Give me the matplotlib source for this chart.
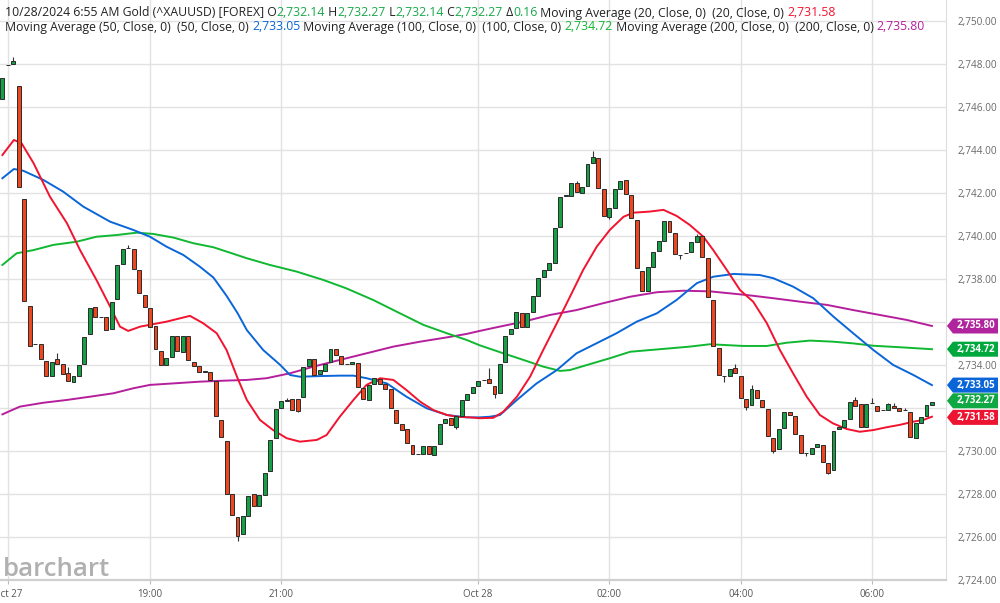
import matplotlib
matplotlib.use("Agg")
import matplotlib.pyplot as plt
import matplotlib.transforms as mtransforms
from matplotlib.patches import Polygon
import numpy as np

# 5-minute candles, Gold (^XAUUSD), index 0..170
opens = [2746.34, 2747.94, 2748.00, 2746.98, 2741.69, 2736.73, 2734.94, 2734.96, 2734.17, 2733.49,
         2734.25, 2734.02, 2733.63, 2733.18, 2733.49, 2734.02, 2735.41, 2736.68, 2736.20, 2736.20,
         2735.67, 2737.04, 2738.68, 2739.41, 2739.37, 2738.40, 2737.23, 2736.62, 2735.80, 2734.65,
         2734.00, 2734.37, 2735.33, 2734.59, 2735.33, 2734.14, 2733.94, 2733.67, 2733.65, 2733.26,
         2731.43, 2730.45, 2727.97, 2726.90, 2726.11, 2726.98, 2727.97, 2727.44, 2727.94, 2729.06,
         2730.60, 2731.97, 2732.33, 2732.40, 2732.40, 2732.48, 2733.94, 2734.25, 2733.55, 2733.72,
         2734.11, 2734.73, 2734.42, 2734.02, 2734.02, 2734.07, 2732.90, 2732.37, 2733.09, 2733.33,
         2733.10, 2732.86, 2731.89, 2731.24, 2730.99, 2730.27, 2729.83, 2729.83, 2730.23, 2729.80,
         2730.31, 2731.27, 2731.52, 2731.12, 2731.63, 2732.34, 2732.70, 2733.02, 2733.29, 2733.33,
         2733.01, 2732.70, 2734.13, 2735.41, 2735.69, 2736.42, 2735.74, 2736.47, 2737.20, 2738.07,
         2738.40, 2738.72, 2740.42, 2741.86, 2741.86, 2742.47, 2741.97, 2742.31, 2743.37, 2743.63,
         2742.16, 2740.88, 2741.30, 2742.16, 2742.59, 2741.89, 2740.73, 2738.37, 2737.43, 2738.56,
         2739.29, 2739.75, 2740.70, 2740.14, 2739.10, 2739.18, 2739.26, 2739.72, 2739.99, 2738.95,
         2737.01, 2734.76, 2733.47, 2733.49, 2733.83, 2733.49, 2732.39, 2732.13, 2732.82, 2732.36,
         2731.93, 2730.58, 2730.06, 2731.07, 2731.79, 2731.61, 2730.73, 2729.88, 2729.85, 2730.16,
         2730.27, 2729.41, 2729.10, 2731.01, 2731.12, 2731.47, 2732.36, 2732.16, 2731.12, 2732.20,
         2732.09, 2731.89, 2731.89, 2732.09, 2731.99, 2731.89, 2731.81, 2730.58, 2731.27, 2731.61,
         2732.14]
closes = [2747.35, 2747.96, 2748.10, 2742.28, 2736.96, 2734.87, 2734.96, 2734.25, 2733.49, 2734.14,
          2734.02, 2733.58, 2733.26, 2733.47, 2733.99, 2735.27, 2736.65, 2736.20, 2736.22, 2735.61,
          2736.93, 2738.62, 2739.38, 2739.43, 2738.44, 2737.32, 2736.70, 2735.77, 2734.74, 2734.00,
          2734.33, 2735.33, 2734.65, 2735.33, 2734.22, 2733.94, 2733.67, 2733.69, 2733.29, 2731.63,
          2730.62, 2728.00, 2727.01, 2726.04, 2726.98, 2727.89, 2727.44, 2727.94, 2728.98, 2730.50,
          2731.94, 2732.31, 2732.35, 2731.89, 2731.86, 2733.91, 2734.25, 2733.52, 2733.75, 2734.03,
          2734.73, 2734.45, 2734.03, 2734.04, 2734.13, 2732.98, 2732.40, 2733.06, 2733.37, 2733.10,
          2732.88, 2731.99, 2731.27, 2730.96, 2730.34, 2729.83, 2729.85, 2730.23, 2729.83, 2730.23,
          2731.24, 2731.47, 2731.18, 2731.63, 2732.34, 2732.65, 2732.98, 2733.23, 2733.31, 2733.13,
          2732.64, 2734.02, 2735.33, 2735.66, 2736.47, 2735.74, 2736.42, 2737.20, 2738.02, 2738.40,
          2738.72, 2740.34, 2741.81, 2741.88, 2742.47, 2742.05, 2742.28, 2743.33, 2743.67, 2742.20,
          2740.93, 2741.27, 2742.16, 2742.56, 2741.94, 2740.81, 2738.48, 2737.43, 2738.53, 2739.26,
          2739.75, 2740.70, 2740.16, 2739.15, 2739.12, 2739.20, 2739.69, 2739.99, 2739.02, 2737.16,
          2734.87, 2733.52, 2733.49, 2733.80, 2733.60, 2732.44, 2732.05, 2732.87, 2732.44, 2732.05,
          2730.68, 2730.00, 2730.99, 2731.81, 2731.66, 2730.78, 2729.88, 2729.90, 2730.11, 2730.31,
          2729.49, 2728.98, 2730.92, 2731.12, 2731.43, 2732.28, 2732.09, 2731.12, 2732.16, 2732.22,
          2731.85, 2731.91, 2732.16, 2731.97, 2731.85, 2731.91, 2730.65, 2731.27, 2731.55, 2732.13,
          2732.27]
# visible wick extremes (bar index: (high, low)); others have no visible wick
wicks = {2: (2748.33, None), 10: (2734.56, None), 12: (2733.88, None), 23: (2739.57, None),
         43: (None, 2725.82), 52: (2732.45, None), 54: (None, 2731.79), 83: (None, 2731.01),
         89: (2733.86, None), 90: (None, 2732.44), 105: (2742.56, None), 108: (2743.94, None),
         111: (None, 2740.78), 124: (None, 2738.90), 127: (2740.08, None), 132: (None, 2733.20),
         134: (2734.02, None), 136: (None, 2731.90), 137: (2733.04, None), 141: (None, 2729.88),
         147: (None, 2729.73), 151: (None, 2728.90), 156: (2732.48, None), 159: (2732.44, None),
         162: (2732.24, None), 163: (2732.20, None), 165: (2731.98, None)}

# moving averages (bar index, value)
ma20_x = [0, 2.1, 3.5, 5.7, 8.7, 11.8, 14.2, 17.2, 19.7, 21.5, 23, 25.2, 30, 34.3, 36.7, 39.2, 41,
          42.9, 44.7, 47.1, 49.5, 52, 54.4, 57.5, 59.3, 61.7, 64.2, 66.6, 69.1, 71.5, 73.9, 76.4,
          78.8, 81.3, 83.1, 85.5, 87.3, 89.8, 91.6, 94.1, 96.5, 98.9, 101.4, 103.8, 106.2, 108.7,
          111.1, 113.6, 115.4, 118.4, 120.9, 123.3, 125.7, 128.2, 130, 132.5, 134.9, 137.3, 139.8,
          142.2, 144.6, 147.1, 149.5, 151.9, 154.4, 156.8, 159.3, 161.7, 164.1, 166.6, 168.4, 170]
ma20_v = [2743.75, 2744.45, 2744.30, 2743.37, 2741.81, 2740.58, 2739.33, 2737.94, 2736.70, 2735.77,
          2735.57, 2735.77, 2736.00, 2736.27, 2735.93, 2735.46, 2734.68, 2733.44, 2732.36, 2731.43,
          2730.96, 2730.58, 2730.42, 2730.50, 2730.73, 2731.58, 2732.36, 2733.06, 2733.37, 2733.29,
          2732.82, 2732.28, 2731.89, 2731.66, 2731.58, 2731.55, 2731.51, 2731.53, 2731.81, 2732.51,
          2733.44, 2734.68, 2735.93, 2737.16, 2738.40, 2739.49, 2740.27, 2740.88, 2741.07, 2741.12,
          2741.20, 2740.92, 2740.50, 2739.95, 2739.33, 2738.40, 2737.47, 2736.93, 2735.93, 2734.68,
          2733.60, 2732.51, 2731.66, 2731.27, 2731.01, 2730.88, 2730.96, 2731.09, 2731.20, 2731.35,
          2731.43, 2731.58]
ma50_x = [0, 2.1, 3.8, 7.5, 11.1, 14.8, 19.7, 23.9, 27, 30, 33.1, 36.1, 38.6, 41, 43, 44.7, 47.7,
          50.8, 52.6, 54.4, 58.1, 61.7, 64.2, 66.6, 70.3, 73.9, 77.6, 81.3, 84.9, 87.3, 89.2, 91,
          94.1, 97.7, 101.4, 105, 108.7, 112.3, 116, 119.7, 123.3, 127, 130, 133.7, 138.5, 141,
          144.6, 148.3, 152, 155.6, 159.3, 162.9, 166.6, 170]
ma50_v = [2742.67, 2743.10, 2743.02, 2742.59, 2742.05, 2741.35, 2740.65, 2740.27, 2739.95, 2739.49,
          2739.10, 2738.56, 2738.05, 2737.20, 2736.40, 2735.61, 2734.68, 2733.99, 2733.52, 2733.44,
          2733.47, 2733.49, 2733.49, 2733.37, 2733.13, 2732.51, 2731.97, 2731.66, 2731.55, 2731.55,
          2731.58, 2731.66, 2732.36, 2733.13, 2733.75, 2734.53, 2735.00, 2735.46, 2736.00, 2736.39,
          2737.01, 2737.79, 2738.09, 2738.22, 2738.17, 2738.02, 2737.63, 2737.09, 2736.23, 2735.46,
          2734.68, 2733.99, 2733.52, 2733.05]
ma100_x = [0, 2.6, 5.7, 9.3, 13.6, 17.2, 20.9, 24.6, 27.6, 31.3, 34.9, 38.6, 41, 44.7, 48.9, 53.8,
           58.7, 62.9, 67.8, 72.7, 77, 81.3, 84.9, 87.3, 91.6, 95.3, 98.9, 102, 103.8, 107.5,
           111.1, 114.8, 118.4, 122.1, 125.7, 129.4, 135.5, 139.8, 143.4, 147.7, 151.9, 155.6,
           159.3, 164.2, 170]
ma100_v = [2738.64, 2739.18, 2739.33, 2739.57, 2739.72, 2739.95, 2740.03, 2740.14, 2740.08, 2739.91,
           2739.65, 2739.46, 2739.26, 2738.95, 2738.64, 2738.33, 2737.94, 2737.55, 2737.01, 2736.39,
           2735.85, 2735.46, 2735.15, 2734.90, 2734.53, 2734.22, 2733.91, 2733.71, 2733.75, 2734.03,
           2734.30, 2734.60, 2734.68, 2734.76, 2734.84, 2734.95, 2734.87, 2734.87, 2735.02, 2735.12,
           2735.07, 2734.99, 2734.88, 2734.81, 2734.72]
ma200_x = [0, 3.2, 7.5, 11.8, 16, 20.3, 23.9, 27, 31.3, 36.1, 41, 44.7, 48.3, 52.6, 56.9, 61.7,
           66.6, 71.5, 76.4, 81.3, 84.9, 87.3, 90.4, 95.3, 100.1, 105, 109.9, 114.8, 119.7, 124.5,
           129.4, 136.1, 141, 145.9, 150.8, 155.6, 160.5, 165.4, 170]
ma200_v = [2731.69, 2732.05, 2732.23, 2732.36, 2732.51, 2732.67, 2732.90, 2733.06, 2733.13, 2733.21,
           2733.26, 2733.29, 2733.37, 2733.60, 2733.91, 2734.22, 2734.53, 2734.84, 2735.07, 2735.27,
           2735.43, 2735.57, 2735.74, 2736.00, 2736.31, 2736.54, 2736.86, 2737.16, 2737.37, 2737.44,
           2737.41, 2737.24, 2737.09, 2736.93, 2736.78, 2736.54, 2736.31, 2736.08, 2735.80]

tick_pos = [1, 27, 51, 87, 111, 135, 159]
tick_lbl = ['Oct 27', '19:00', '21:00', 'Oct 28', '02:00', '04:00', '06:00']
price_ticks = np.arange(2724, 2751, 2)
hidden_ticks = [2732, 2736]  # covered by the value tags

C_UP = '#15a046'
C_DN = '#f0461f'
C_MA20 = '#f2132f'
C_MA50 = '#0a66d8'
C_MA100 = '#10b832'
C_MA200 = '#b51f9c'

plt.rcParams['font.family'] = ['Open Sans', 'DejaVu Sans']

W, H = 1000, 603
fig = plt.figure(figsize=(10, 6.03), dpi=100)
ax = fig.add_axes([0, (H - 579.7) / H, 946 / W, 579.7 / H])
ax.set_xlim(-0.44, 172.57)
ax.set_ylim(2724.0, 2750.96)

# grid
for v in price_ticks:
    ax.axhline(v, color='#e2e2e2', lw=1.0, zorder=0)
for p in tick_pos:
    ax.axvline(p, color='#e2e2e2', lw=1.0, zorder=0)

# moving averages
ax.plot(ma200_x, ma200_v, color=C_MA200, lw=1.4, zorder=2)
ax.plot(ma100_x, ma100_v, color=C_MA100, lw=1.4, zorder=2)
ax.plot(ma50_x, ma50_v, color=C_MA50, lw=1.4, zorder=2)
ax.plot(ma20_x, ma20_v, color=C_MA20, lw=1.4, zorder=2)

# candles
idx = np.arange(len(opens))
o = np.array(opens)
c = np.array(closes)
for i in idx:
    hi, lo = wicks.get(i, (None, None))
    top, bot = max(o[i], c[i]), min(o[i], c[i])
    if hi is not None:
        ax.vlines(i, top, hi, color='#333333', lw=0.8, zorder=3)
    if lo is not None:
        ax.vlines(i, lo, bot, color='#333333', lw=0.8, zorder=3)
col = np.where(c >= o, C_UP, C_DN)
ax.bar(idx, np.maximum(np.abs(c - o), 0.02), bottom=np.minimum(o, c), width=0.72,
       color=col, edgecolor='#2b2b2b', linewidth=0.7, zorder=4)

# axes styling
for s in ['top', 'left']:
    ax.spines[s].set_visible(False)
ax.spines['right'].set_color('#dddddd')
ax.spines['bottom'].set_color('#cfcfcf')
ax.spines['bottom'].set_linewidth(1.6)
ax.yaxis.tick_right()
ax.set_yticks(price_ticks)
ax.set_yticklabels(['' if v in hidden_ticks else f'{v:,.2f}' for v in price_ticks])
ax.tick_params(axis='y', length=0, pad=8, labelsize=7.2, labelcolor='#6a6a6a')
ax.set_xticks(tick_pos)
ax.set_xticklabels(tick_lbl)
ax.tick_params(axis='x', length=3, color='#bbbbbb', pad=4, labelsize=7, labelcolor='#555555')

# value tags on the right axis (value, colour, shown at)
trans = mtransforms.blended_transform_factory(ax.transAxes, ax.transData)
tags = [(closes[-1], '#0fa843', closes[-1] + 0.05), (ma20_v[-1], '#ec1431', ma20_v[-1] - 0.03),
        (ma50_v[-1], C_MA50, ma50_v[-1]), (ma100_v[-1], '#00a83d', ma100_v[-1]),
        (ma200_v[-1], '#b0249e', ma200_v[-1])]
x0 = 1.001
tip = 6 / 946
x1 = 998 / 946
hh = 0.35
for val, colr, at in tags:
    pts = [(x0, at), (x0 + tip, at + hh), (x1, at + hh), (x1, at - hh), (x0 + tip, at - hh)]
    ax.add_patch(Polygon(pts, closed=True, transform=trans, facecolor=colr, edgecolor='none',
                         clip_on=False, zorder=6))
    ax.text(1.0315, at, f'{val:,.2f}', transform=trans, ha='center', va='center',
            color='white', fontsize=7.0, fontweight='bold', zorder=7, clip_on=False)

# header legend
fig.canvas.draw()
renderer = fig.canvas.get_renderer()


def put_line(y_px, pieces, size=8.8):
    x = 5.0
    for txt, colr in pieces:
        t = fig.text(x / W, 1 - y_px / H, txt, color=colr, fontsize=size, va='center', ha='left')
        bb = t.get_window_extent(renderer)
        x += bb.width


DARK = '#222222'
G = '#18a84a'
put_line(13, [('10/28/2024 6:55 AM Gold (^XAUUSD) [FOREX] O', DARK), ('2,732.14', G),
              (' H', DARK), ('2,732.27', G), (' L', DARK), ('2,732.14', G), (' C', DARK),
              ('2,732.27', G), (' \u0394', DARK), ('0.16', G),
              (' Moving Average (20, Close, 0)  (20, Close, 0) ', DARK), ('2,731.58', C_MA20)])
put_line(27, [('Moving Average (50, Close, 0)  (50, Close, 0) ', DARK), ('2,733.05', C_MA50),
              (' Moving Average (100, Close, 0)  (100, Close, 0) ', DARK), ('2,734.72', C_MA100),
              (' Moving Average (200, Close, 0)  (200, Close, 0) ', DARK), ('2,735.80', C_MA200)])

# watermark
fig.text(3 / W, 1 - 576 / H, 'barchart', color='#b0b0b0', fontsize=18.5, fontweight='semibold',
         ha='left', va='baseline')

fig.savefig('out.png', dpi=100, facecolor='white')
